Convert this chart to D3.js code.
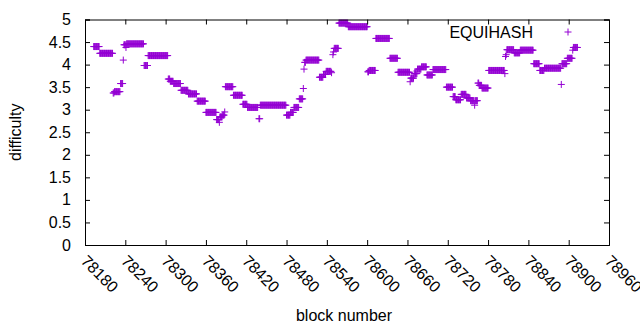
<!DOCTYPE html>
<html>
<head>
<meta charset="utf-8">
<script src="https://cdn.jsdelivr.net/npm/d3@7"></script>
<style>
  body { margin: 0; background: #fff; }
  text { font-family: "Liberation Sans", Arial, sans-serif; font-size: 16px; fill: #000; }
</style>
</head>
<body>
<svg id="chart" width="640" height="330"></svg>
<script>
// Runs of consecutive blocks sharing one difficulty value
const runStart = [78193,78202,78222,78224,78233,78237,78238,78241,78242,78268,78274,78304,78307,78312,78323,78334,78347,78360,78376,78380,78381,78385,78388,78389,78401,78415,78422,78439,78441,78480,78486,78491,78499,78505,78506,78507,78509,78529,78535,78539,78547,78549,78550,78551,78558,78572,78601,78603,78613,78634,78646,78664,78665,78670,78675,78681,78689,78698,78718,78728,78732,78740,78748,78754,78760,78761,78765,78767,78771,78781,78805,78806,78807,78808,78819,78828,78848,78857,78864,78889,78890,78898,78906,78907];
const runEnd   = [78201,78221,78223,78232,78236,78237,78240,78241,78267,78273,78303,78306,78311,78322,78333,78346,78359,78375,78379,78380,78384,78387,78388,78400,78414,78421,78437,78440,78479,78485,78490,78498,78504,78505,78506,78508,78528,78534,78538,78546,78547,78549,78550,78557,78571,78600,78602,78612,78633,78645,78663,78664,78669,78674,78680,78688,78697,78717,78727,78731,78739,78747,78753,78759,78760,78764,78766,78770,78780,78804,78805,78806,78807,78818,78827,78847,78856,78863,78888,78889,78897,78905,78906,78913];
const runValue = [4.40,4.25,3.37,3.40,3.58,4.10,4.44,4.38,4.46,3.98,4.20,3.68,3.63,3.58,3.43,3.35,3.19,2.94,2.78,2.72,2.84,2.88,2.95,3.51,3.32,3.12,3.05,2.80,3.10,2.88,2.94,3.05,3.24,3.47,3.90,4.05,4.10,3.72,3.78,3.85,3.82,4.22,4.28,4.36,4.92,4.84,3.84,3.87,4.58,4.14,3.83,3.62,3.70,3.80,3.90,3.95,3.77,3.89,3.50,3.29,3.22,3.34,3.26,3.20,3.10,3.20,3.59,3.54,3.48,3.87,3.80,4.18,4.22,4.33,4.26,4.32,4.02,3.87,3.92,3.56,4.02,4.14,4.32,4.38];

const xTicks = [78180,78240,78300,78360,78420,78480,78540,78600,78660,78720,78780,78840,78900,78960];
const yTicks = [0,0.5,1,1.5,2,2.5,3,3.5,4,4.5,5];
const seriesName = "EQUIHASH";
const xTitle = "block number";
const yTitle = "difficulty";

// one point per block
const points = [];
runStart.forEach((s, i) => {
  for (let b = s; b <= runEnd[i]; b++) points.push({ block: b, value: runValue[i] });
});

const svg = d3.select("#chart");
const L = 85, R = 609, T = 19.5, B = 245;
const color = "#9400d3";

const x = d3.scaleLinear().domain([78180, 78960]).range([L, R]);
const y = d3.scaleLinear().domain([0, 5]).range([B, T]);

const plusPath = (px, py, s) => `M${px - s},${py}H${px + s}M${px},${py - s}V${py + s}`;

// points
svg.append("g")
  .selectAll("path")
  .data(points)
  .join("path")
  .attr("d", d => plusPath(x(d.block), y(d.value), 3.5))
  .attr("stroke", color)
  .attr("stroke-width", 1)
  .attr("fill", "none");

// axes (ticks inward, mirrored)
const tickLen = 5;
const gBottom = svg.append("g").attr("transform", `translate(0,${B})`)
  .call(d3.axisBottom(x).tickValues(xTicks).tickSize(-tickLen).tickFormat(""));
const gTop = svg.append("g").attr("transform", `translate(0,${T})`)
  .call(d3.axisTop(x).tickValues(xTicks).tickSize(-tickLen).tickFormat(""));
const gLeft = svg.append("g").attr("transform", `translate(${L},0)`)
  .call(d3.axisLeft(y).tickValues(yTicks).tickSize(-tickLen).tickFormat(""));
const gRight = svg.append("g").attr("transform", `translate(${R},0)`)
  .call(d3.axisRight(y).tickValues(yTicks).tickSize(-tickLen).tickFormat(""));
[gBottom, gTop, gLeft, gRight].forEach(g => {
  g.selectAll(".domain").attr("stroke", "#000").attr("stroke-width", 1);
  g.selectAll(".tick line").attr("stroke", "#000").attr("stroke-width", 1);
});

// y tick labels
svg.append("g").selectAll("text")
  .data(yTicks).join("text")
  .attr("x", L - 14)
  .attr("y", d => y(d) + 5.5)
  .attr("text-anchor", "end")
  .text(d => d3.format("")(d));

// x tick labels rotated -45 (down-right)
svg.append("g").selectAll("text")
  .data(xTicks).join("text")
  .attr("transform", d => `translate(${x(d) - 5},${B + 17}) rotate(45)`)
  .attr("text-anchor", "start")
  .text(d => d);

// axis titles
svg.append("text")
  .attr("x", 344)
  .attr("y", 321)
  .attr("text-anchor", "middle")
  .text(xTitle);
svg.append("text")
  .attr("transform", `translate(21,${(T + B) / 2}) rotate(-90)`)
  .attr("text-anchor", "middle")
  .text(yTitle);

// legend
const legendRight = 533;
svg.append("text")
  .attr("x", legendRight)
  .attr("y", 38)
  .attr("text-anchor", "end")
  .text(seriesName);
svg.append("path")
  .attr("d", plusPath(legendRight + 35, 32, 3.5))
  .attr("stroke", color)
  .attr("stroke-width", 1)
  .attr("fill", "none");
</script>
</body>
</html>
